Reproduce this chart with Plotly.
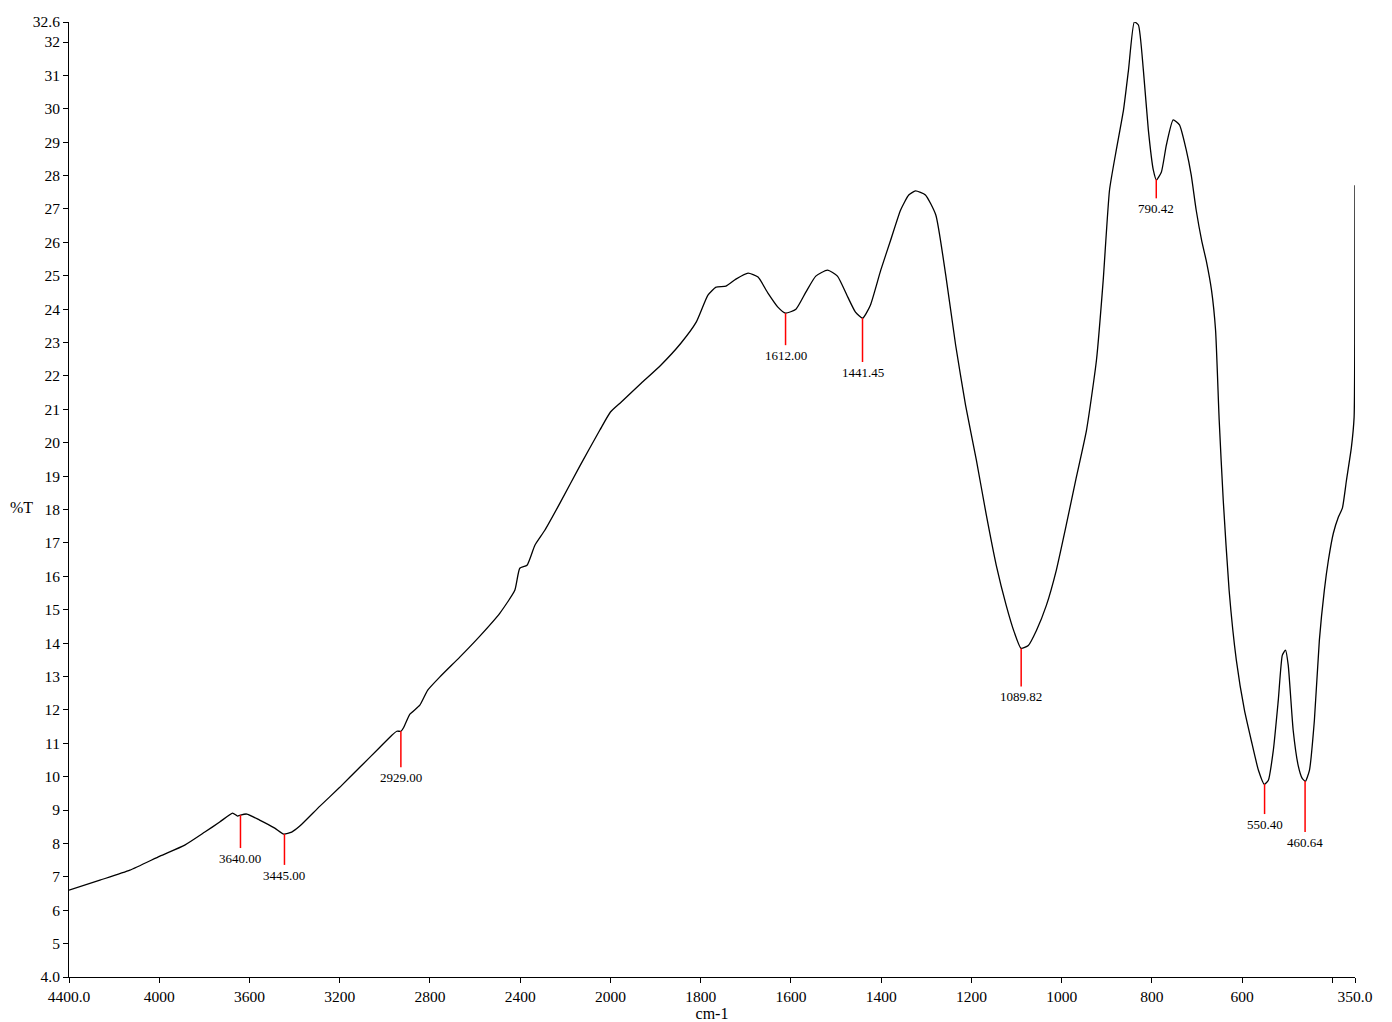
import numpy as np
import plotly.graph_objects as go

# ---- spectrum data ----
wavenumber = [4400, 4263, 4130, 3997, 3887, 3798, 3732, 3675, 3653, 3640, 3612, 3555, 3488,
              3448, 3413, 3377, 3289, 3200, 3111, 3022, 2969, 2947, 2929, 2916, 2889, 2845,
              2810, 2757, 2668, 2579, 2490, 2424, 2402, 2370, 2335, 2291, 2224, 2136, 2047,
              2000, 1976, 1932, 1888, 1844, 1810, 1784, 1766, 1744, 1722, 1695, 1673, 1651,
              1629, 1612, 1589, 1567, 1545, 1519, 1497, 1474, 1457, 1441, 1424, 1401, 1379,
              1357, 1339, 1324, 1302, 1279, 1257, 1235, 1213, 1189, 1167, 1145, 1123, 1105,
              1090, 1074, 1056, 1034, 1012, 990, 968, 945, 923, 908, 894, 879, 863, 852, 839,
              830, 819, 808, 797, 790, 779, 768, 753, 739, 724, 713, 702, 690, 679, 668, 659,
              651, 642, 629, 613, 595, 580, 564, 551, 542, 531, 520, 511, 504, 498, 487, 476,
              467, 460, 451, 440, 429, 418, 409, 398, 387, 378, 369, 358, 352, 350.5, 350]
transmittance = [6.60, 6.90, 7.20, 7.62, 7.95, 8.34, 8.64, 8.91, 8.82, 8.85, 8.88, 8.70, 8.46,
                 8.28, 8.34, 8.52, 9.11, 9.68, 10.28, 10.88, 11.24, 11.36, 11.36, 11.48, 11.87,
                 12.14, 12.59, 12.98, 13.58, 14.21, 14.90, 15.58, 16.24, 16.33, 16.93, 17.38,
                 18.19, 19.30, 20.38, 20.92, 21.22, 21.78, 22.33, 22.98, 23.61, 24.42, 24.66,
                 24.69, 24.90, 25.08, 24.96, 24.48, 24.06, 23.88, 24.00, 24.51, 24.99, 25.17,
                 24.99, 24.36, 23.91, 23.73, 24.12, 25.17, 26.07, 26.97, 27.42, 27.54, 27.42,
                 26.82, 25.02, 22.92, 21.12, 19.47, 17.83, 16.33, 15.13, 14.32, 13.84, 13.93,
                 14.38, 15.13, 16.18, 17.53, 18.94, 20.38, 22.47, 24.87, 27.57, 28.77, 29.97,
                 31.16, 32.60, 32.51, 31.16, 29.37, 28.17, 27.87, 28.11, 28.92, 29.67, 29.52,
                 28.77, 28.02, 26.97, 26.07, 25.41, 24.57, 23.37, 20.68, 18.28, 15.58, 13.49,
                 11.99, 11.09, 10.19, 9.77, 9.89, 10.79, 12.29, 13.64, 13.79, 13.34, 11.39,
                 10.34, 9.95, 9.86, 10.19, 11.69, 14.08, 15.58, 16.48, 17.29, 17.77, 18.04,
                 18.87, 19.86, 20.76, 23.0, 27.71]

peak_wavenumbers = [3640.00, 3445.00, 2929.00, 1612.00, 1441.45, 1089.82, 790.42, 550.40, 460.64]
peak_labels = ["3640.00", "3445.00", "2929.00", "1612.00", "1441.45", "1089.82", "790.42",
               "550.40", "460.64"]

x_tick_values = [4400, 4000, 3600, 3200, 2800, 2400, 2000, 1800, 1600, 1400, 1200, 1000,
                 800, 600, 400, 350]
x_tick_labels = ["4400.0", "4000", "3600", "3200", "2800", "2400", "2000", "1800", "1600",
                 "1400", "1200", "1000", "800", "600", "", "350.0"]
y_tick_values = [4.0] + list(range(5, 33)) + [32.6]
y_tick_labels = ["4.0"] + [str(v) for v in range(5, 33)] + ["32.6"]

# ---- style ----
marker_drop_px = [33, 31, 36, 32, 44, 38, 19, 30, 51]
FONT = "Liberation Serif, Times New Roman, serif"
TICK_SIZE = 15.5
TITLE_SIZE = 16
# page body has an 8px margin, so the figure is 8px smaller and margins compensate
W, H = 1384, 1014
ML, MR, MT, MB = 61, 37, 14, 45
Y_MIN, Y_MAX = 4.0, 32.6
plot_h = H - MT - MB
plot_w = W - ML - MR
px_to_y = (Y_MAX - Y_MIN) / plot_h


def axis_u(w):
    """Piecewise-linear IR abscissa: scale doubles below 2000 cm-1."""
    w = np.asarray(w, dtype=float)
    return np.where(w >= 2000, 4400 - w, 2400 + 2 * (2000 - w))


u = axis_u(wavenumber)
t = np.asarray(transmittance, dtype=float)
order = np.argsort(u)

fig = go.Figure()
fig.add_trace(go.Scatter(x=u, y=t, mode="lines",
                         line=dict(color="black", width=1.3, shape="spline", smoothing=0.5),
                         hoverinfo="skip", showlegend=False))

pu = axis_u(peak_wavenumbers)
pt = np.interp(pu, u[order], t[order])
for xu, yt, lab, drop in zip(pu, pt, peak_labels, marker_drop_px):
    y_end = yt - drop * px_to_y
    fig.add_shape(type="line", x0=xu, x1=xu, y0=yt, y1=y_end,
                  line=dict(color="#ff0000", width=1.5), layer="above")
    fig.add_annotation(x=xu, y=y_end, text=lab, showarrow=False, yanchor="top",
                       xanchor="center", yshift=-1,
                       font=dict(family=FONT, size=13, color="black"))

fig.add_annotation(xref="paper", yref="paper", x=-34 / plot_w, y=0.5 - 8 / plot_h,
                   text="%T", showarrow=False, xanchor="right", yanchor="middle",
                   font=dict(family=FONT, size=TITLE_SIZE, color="black"))

fig.update_layout(
    width=W, height=H,
    margin=dict(l=ML, r=MR, t=MT, b=MB),
    plot_bgcolor="white", paper_bgcolor="white",
    showlegend=False,
    font=dict(family=FONT, size=TICK_SIZE, color="black"),
    xaxis=dict(range=[0, 5700], tickmode="array",
               tickvals=list(axis_u(x_tick_values)), ticktext=x_tick_labels,
               showgrid=False, zeroline=False, showline=True, linecolor="black",
               linewidth=1, ticks="outside", ticklen=5, tickcolor="black",
               tickfont=dict(family=FONT, size=TICK_SIZE), automargin=False,
               title=dict(text="cm-1", font=dict(family=FONT, size=TITLE_SIZE), standoff=6)),
    yaxis=dict(range=[Y_MIN, Y_MAX], tickmode="array",
               tickvals=y_tick_values, ticktext=y_tick_labels,
               showgrid=False, zeroline=False, showline=True, linecolor="black",
               linewidth=1, ticks="outside", ticklen=5, tickcolor="black",
               tickfont=dict(family=FONT, size=TICK_SIZE), automargin=False),
)

fig.write_html("out.html")
